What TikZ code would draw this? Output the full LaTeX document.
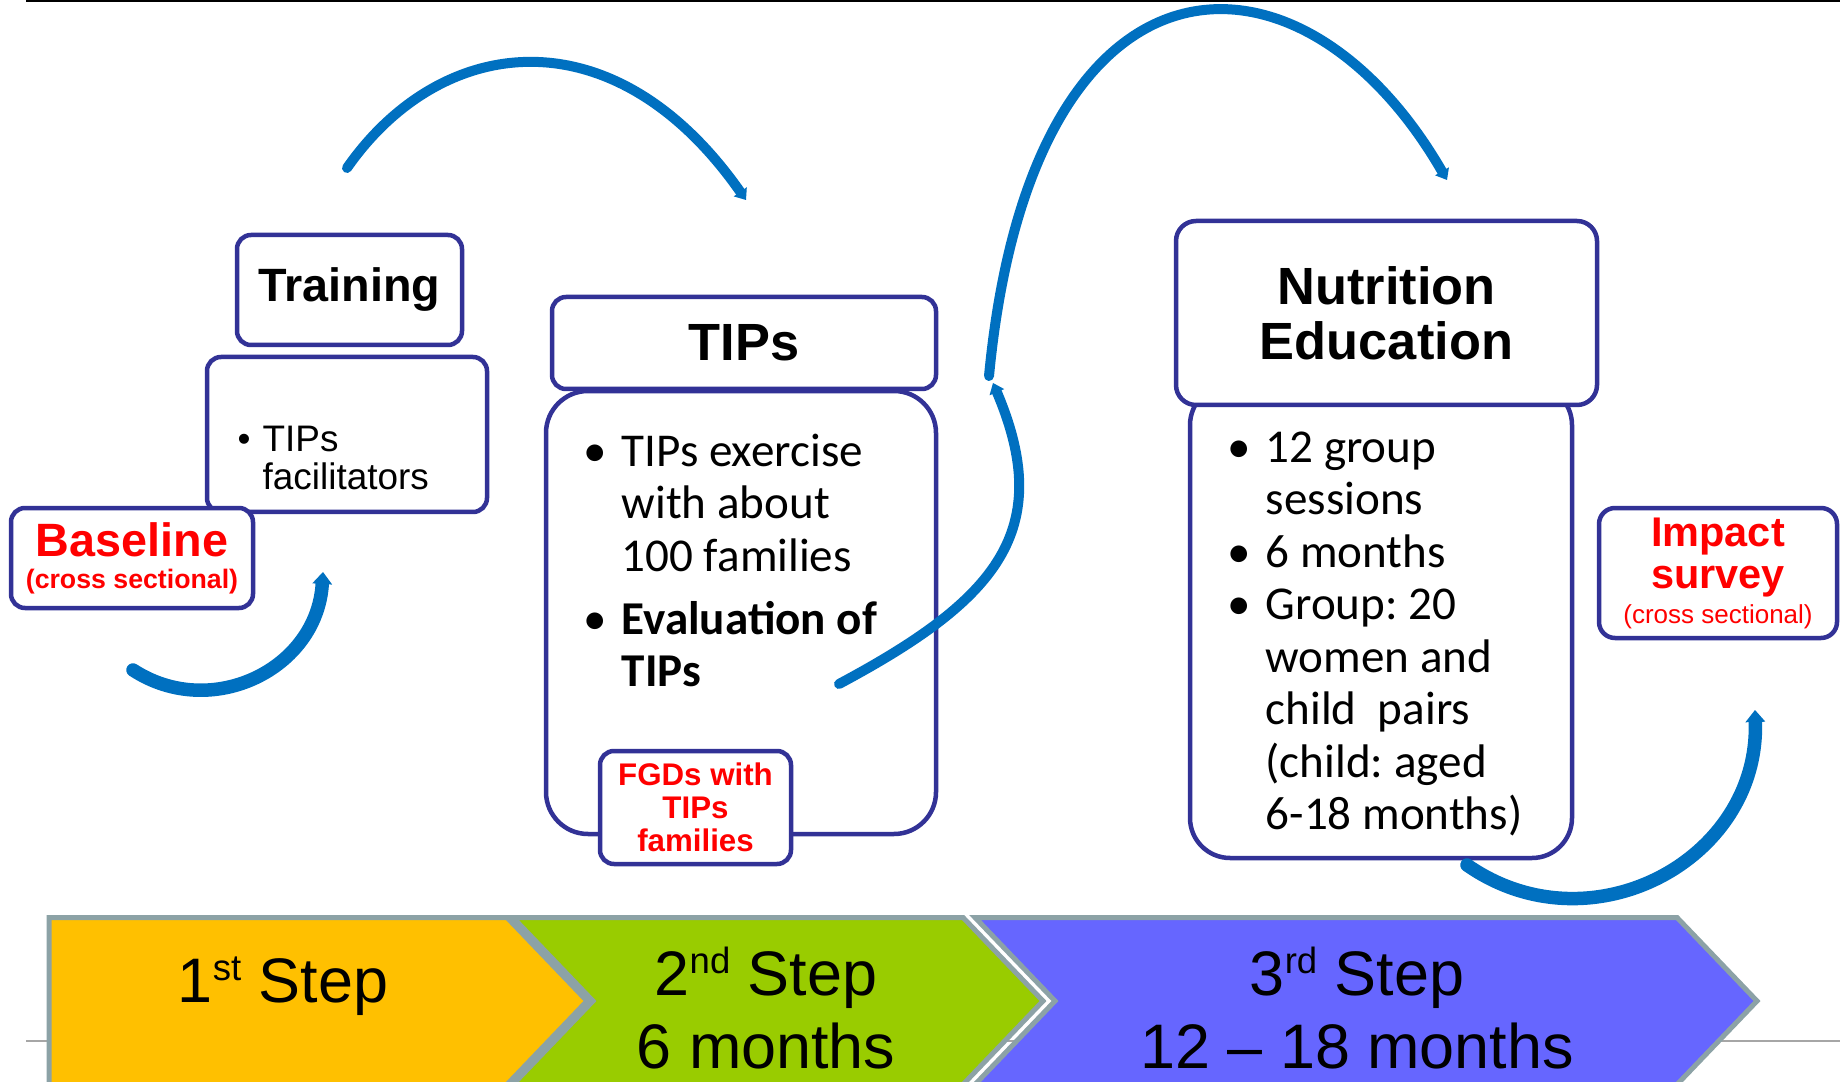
\documentclass[tikz,border=0pt]{standalone}
\usepackage{fontspec}
\setmainfont{Liberation Sans}
\newfontfamily\calibri{Carlito}
\usetikzlibrary{arrows.meta}
\frenchspacing
\definecolor{boxblue}{RGB}{50,50,150}
\definecolor{flowblue}{RGB}{0,112,192}
\definecolor{stepgray}{RGB}{140,162,166}
\definecolor{steporange}{RGB}{255,192,0}
\definecolor{stepgreen}{RGB}{153,204,0}
\definecolor{stepviolet}{RGB}{102,102,255}
\newcommand\bul[1]{\makebox[#1][l]{\textbullet}}
\newcommand\ordsup[1]{\raisebox{6pt}{\fontsize{10.4}{10.4}\selectfont #1}}
\tikzset{
  box/.style={draw=boxblue, line width=0.45mm, fill=white, rounded corners=1.4mm, inner sep=0pt, align=center},
  flow/.style={draw=flowblue, line width=1mm, line cap=round, -{Triangle[length=1mm, width=1.6mm, line width=0pt]}},
  thickflow/.style={flow, line width=1.35mm, -{Triangle[length=1.2mm, width=2mm, line width=0pt]}},
  steparrow/.style={draw=stepgray, line width=0.5mm},
  steptext/.style={font=\fontsize{17.9}{20.9}\selectfont, inner sep=0pt, anchor=base},
  listtext/.style={font=\calibri\fontsize{13.4}{14.94}\selectfont, inner sep=0pt, anchor=base west}
}
\begin{document}
\begin{tikzpicture}[x=0.1mm, y=-0.1mm]
    \useasboundingbox (0,0) rectangle (1840,1082);
    \clip (0,0) rectangle (1840,1082);

    \draw [line width=0.2mm] (26,1) -- (1840,1);
    \draw [line width=0.2mm, gray!70] (26,1041) -- (1840,1041);

    \filldraw [steparrow, fill=steporange] (49,917.5) -- (507,917.5) -- (587,1001) -- (507,1084.5) -- (49,1084.5) -- cycle;
    \filldraw [steparrow, fill=stepgreen] (513,917.5) -- (963,917.5) -- (1043,1001) -- (963,1084.5) -- (513,1084.5) -- (593,1001) -- cycle;
    \filldraw [steparrow, fill=stepviolet] (975,917.5) -- (1677,917.5) -- (1757,1001) -- (1677,1084.5) -- (975,1084.5) -- (1055,1001) -- cycle;

    \node [steptext] (step1) at (283,1002) {1\ordsup{st} Step};
    \node [steptext] (step2) at (766,995) {\begin{tabular}[t]{@{}c@{}}2\ordsup{nd} Step\\6 months\end{tabular}};
    \node [steptext] (step3) at (1357,995) {\begin{tabular}[t]{@{}c@{}}3\ordsup{rd} Step\\12 – 18 months\end{tabular}};

    \node [box, minimum width=28mm, minimum height=15.5mm] (trainbody) at (347,434.5) {};
    \node [listtext, font=\fontsize{10.5}{10.5}\selectfont] (facil) at (237,452) {\begin{tabular}[t]{@{}l@{}}\bul{2.5mm}TIPs\\\hspace*{2.5mm}facilitators\end{tabular}};
    \node [box, minimum width=22.5mm, minimum height=11mm, font=\bfseries\fontsize{13.3}{16}\selectfont] (training) at (349.5,290) {Training};
    \node [box, minimum width=24.2mm, minimum height=10mm, text=red, font=\bfseries\fontsize{7.6}{9.1}\selectfont] (baseline) at (132,558) {{\fontsize{13.3}{13.3}\selectfont Baseline}\\(cross sectional)};

    \node [box, rounded corners=4.2mm, minimum width=39mm, minimum height=44.3mm] (tipsbody) at (741,612.5) {};
    \node [box, minimum width=38.4mm, minimum height=9.2mm, font=\bfseries\fontsize{14.9}{16}\selectfont] (tips) at (744,343) {TIPs};
    \node [listtext] (tipslist) at (583,466) {\begin{tabular}[t]{@{}l@{}}\bul{3.8mm}TIPs exercise\\\hspace*{3.8mm}with about\\\hspace*{3.8mm}100 families\\[3.1pt]\bul{3.8mm}\textbf{Evaluation of}\\\hspace*{3.8mm}\textbf{TIPs}\end{tabular}};
    \node [box, minimum width=19.1mm, minimum height=11.3mm, text=red, font=\bfseries\fontsize{8.9}{9.4}\selectfont] (fgd) at (695.5,807.5) {FGDs with\\TIPs\\families};

    \node [box, rounded corners=4mm, minimum width=38.2mm, minimum height=47.3mm] (nutribody) at (1381,621.5) {};
    \node [box, rounded corners=2mm, minimum width=42.1mm, minimum height=18.4mm, font=\bfseries\fontsize{14.9}{15.65}\selectfont] (nutri) at (1386.5,313) {Nutrition\\Education};
    \node [listtext] (nutrilist) at (1227,462) {\begin{tabular}[t]{@{}l@{}}\bul{3.8mm}12 group\\\hspace*{3.8mm}sessions\\\bul{3.8mm}6 months\\\bul{3.8mm}Group: 20\\\hspace*{3.8mm}women and\\\hspace*{3.8mm}child\ \ pairs\\\hspace*{3.8mm}(child: aged\\\hspace*{3.8mm}6-18 months)\end{tabular}};
    \node [box, rounded corners=1.6mm, minimum width=23.8mm, minimum height=13mm, text=red, font=\bfseries\fontsize{11.8}{12.2}\selectfont] (impact) at (1718,573) {Impact\\survey\\[-2.5pt]{\mdseries\fontsize{7.4}{7.4}\selectfont (cross sectional)}};

    \coordinate (baseout) at (133,670);
    \coordinate (trainin) at (323,572);
    \coordinate (trainout) at (347,168);
    \coordinate (tipsin) at (746,200);
    \coordinate (tipsout) at (839,684);
    \coordinate (tipsup) at (993,383);
    \coordinate (nutriout) at (989,376);
    \coordinate (nutriin) at (1447,180);
    \coordinate (eduout) at (1467,865);
    \coordinate (impactin) at (1755,710);

    \draw [thickflow] (baseout) .. controls (211.6,721.2) and (316.9,668.9) .. (trainin);
    \draw [flow] (trainout) .. controls (442,32) and (615,13) .. (tipsin);
    \draw [flow] (tipsout) .. controls (997.4,599.4) and (1055.4,530.2) .. (tipsup);
    \draw [flow] (nutriout) .. controls (1031.75,-71.8) and (1302,-71.1) .. (nutriin);
    \draw [thickflow] (eduout) .. controls (1590,951) and (1759.5,860.4) .. (impactin);
\end{tikzpicture}
\end{document}
